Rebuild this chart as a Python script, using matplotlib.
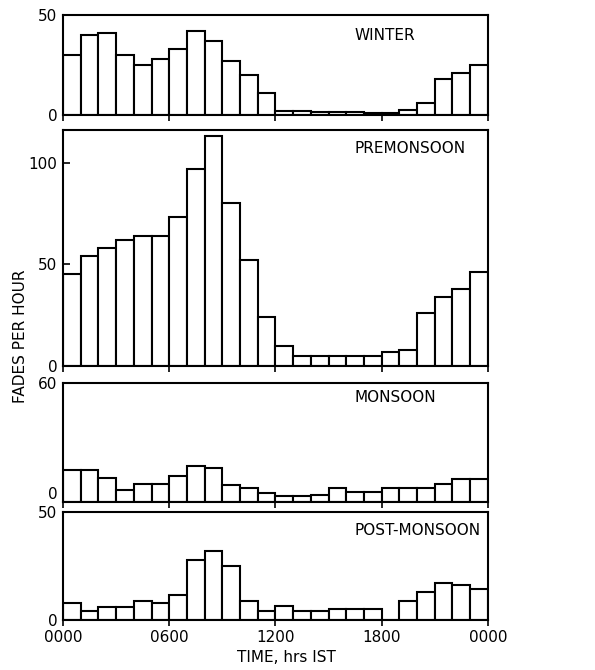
import matplotlib
matplotlib.use("Agg")
import matplotlib.pyplot as plt
import numpy as np

HOURS = np.arange(24)
XTICKS = [0, 6, 12, 18, 24]
XTICKLABELS = ["0000", "0600", "1200", "1800", "0000"]

SEASONS = ["WINTER", "PREMONSOON", "MONSOON", "POST-MONSOON"]
WINTER = [30, 40, 41, 30, 25, 28, 33, 42, 37, 27, 20, 11,
          2, 2, 1.7, 1.5, 1.3, 1, 1, 2.5, 6, 18, 21, 25]
PREMONSOON = [45, 54, 58, 62, 64, 64, 73, 97, 113, 80, 52, 24,
              10, 5, 5, 5, 5, 5, 7, 8, 26, 34, 38, 46]
MONSOON = [16, 16, 12, 6, 9, 9, 13, 18, 17, 8.5, 7, 4.5,
           3, 3, 3.5, 7, 5, 5, 7, 7, 7, 9, 11.5, 11.5]
POST_MONSOON = [8, 4, 6, 6, 9, 8, 11.5, 28, 32, 25, 9, 4,
                6.5, 4, 4, 5, 5, 5, 0, 9, 13, 17, 16, 14.5]
VALUES = [WINTER, PREMONSOON, MONSOON, POST_MONSOON]
YMAX = [50, 116, 60, 50]
YTICKS = [[0, 50], [0, 50, 100], [0, 60], [0, 50]]

# axes rectangles in figure fractions (bottom, top)
LEFT, RIGHT = 0.106, 0.820
BOXES = [(0.8284, 0.9776), (0.4537, 0.806), (0.2507, 0.4284), (0.0746, 0.2358)]
LABEL_Y = [0.80, 0.92, 0.88, 0.83]

plt.rcParams["font.family"] = "DejaVu Sans"
fig = plt.figure(figsize=(5.95, 6.70), dpi=100)

for i, (name, vals) in enumerate(zip(SEASONS, VALUES)):
    bot, top = BOXES[i]
    ax = fig.add_axes([LEFT, bot, RIGHT - LEFT, top - bot])
    ax.bar(HOURS, vals, width=1.0, align="edge", color="white",
           edgecolor="black", linewidth=1.5)
    ax.set_xlim(0, 24)
    ax.set_ylim(0, YMAX[i])
    ax.set_yticks(YTICKS[i])
    ax.set_xticks(XTICKS)
    ax.tick_params(axis="y", direction="in", length=5, width=1.2,
                   labelsize=11, pad=4)
    ax.tick_params(axis="x", direction="out", length=4, width=1.2,
                   labelsize=11)
    if i < 3:
        ax.set_xticklabels([])
    else:
        ax.set_xticklabels(XTICKLABELS)
    # the monsoon zero sits on its baseline, clear of the 50 below it
    if name == "MONSOON":
        ax.get_yticklabels()[0].set_verticalalignment("bottom")
    for sp in ax.spines.values():
        sp.set_linewidth(1.5)
    ax.text(0.685, LABEL_Y[i], name, transform=ax.transAxes,
            fontsize=11, ha="left", va="center")

fig.text(0.034, 0.498, "FADES PER HOUR", rotation=90, fontsize=11,
         ha="center", va="center")
fig.text(0.482, 0.018, "TIME, hrs IST", fontsize=11, ha="center", va="center")

plt.savefig("out.png", dpi=100, facecolor="white")
plt.close()
